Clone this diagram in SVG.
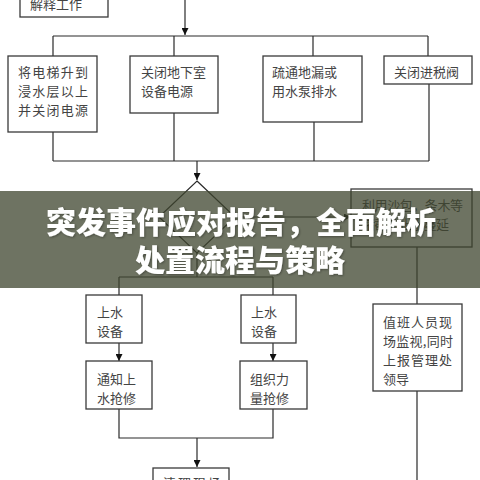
<svg xmlns="http://www.w3.org/2000/svg" width="480" height="480" viewBox="0 0 480 480">
<style>
.box{fill:#fff;stroke:#3a3a3a;stroke-width:1.3}
.ln{fill:none;stroke:#2a2a2a;stroke-width:1.2}
.t{font-family:"Noto Sans CJK SC","Noto Sans CJK JP",sans-serif;font-size:13px;fill:#444}
.title{font-family:"Noto Sans CJK SC","Noto Sans CJK JP",sans-serif;font-size:30px;font-weight:900;fill:#fff;text-anchor:middle}
</style>
<defs>
<marker id="arr" viewBox="0 0 10 10" refX="10" refY="5" markerWidth="7" markerHeight="7" markerUnits="userSpaceOnUse" orient="auto">
<path d="M0,0 L10,5 L0,10 z" fill="#111"/>
</marker>
<filter id="sh" x="-10%" y="-20%" width="120%" height="140%">
<feDropShadow dx="1" dy="1" stdDeviation="1" flood-color="#000" flood-opacity="0.35"/>
</filter>
</defs>
<rect width="480" height="480" fill="#fff"/>
<g id="connectors">
<path class="ln" d="M185,0 V35" marker-end="url(#arr)"/>
<path class="ln" d="M53,36 H428 M53,36 V56 M174,36 V56 M313,36 V56 M428,36 V56"/>
<path class="ln" d="M53,132 V161 M174,113 V161 M314,122 V161 M429,84 V161 M53,161 H429"/>
<path class="ln" d="M197,161 V180" marker-end="url(#arr)"/>
<path class="ln" d="M235,217 H351" marker-end="url(#arr)"/>
<path class="ln" d="M197,253 V277 M119,277 H273 M119,277 V295 M273,277 V295"/>
<path class="ln" d="M119,343 V361" marker-end="url(#arr)"/>
<path class="ln" d="M273,343 V361" marker-end="url(#arr)"/>
<path class="ln" d="M119,409 V438 H273 V409"/>
<path class="ln" d="M197,438 V467" marker-end="url(#arr)"/>
<path class="ln" d="M417,247 V304 M417,391 V480"/>
</g>
<g id="n-explain">
<rect class="box" x="20" y="-20" width="88" height="37"/>
<text class="t" x="30" y="9">解释工作</text>
</g>
<g id="n-elevator">
<rect class="box" x="8" y="56" width="89" height="76"/>
<text class="t" x="18" y="77" textLength="70">将电梯升到</text>
<text class="t" x="18" y="96" textLength="70">浸水层以上</text>
<text class="t" x="18" y="115" textLength="70">并关闭电源</text>
</g>
<g id="n-power">
<rect class="box" x="130" y="56" width="88" height="57"/>
<text class="t" x="141" y="77">关闭地下室</text>
<text class="t" x="141" y="96">设备电源</text>
</g>
<g id="n-drain">
<rect class="box" x="263" y="56" width="99" height="66"/>
<text class="t" x="272" y="77">疏通地漏或</text>
<text class="t" x="272" y="96">用水泵排水</text>
</g>
<g id="n-valve">
<rect class="box" x="384" y="56" width="88" height="28"/>
<text class="t" x="394" y="77">关闭进税阀</text>
</g>
<g id="n-decision">
<path class="ln" d="M197,181 L235,217 L197,253 L159,217 Z" fill="#fff"/>
</g>
<g id="n-sandbag">
<rect class="box" x="351" y="189" width="121" height="58"/>
<text class="t" x="362" y="210" textLength="101">利用沙包，条木等</text>
<text class="t" x="362" y="229" textLength="87">堵截防止水蔓延</text>
</g>
<g id="n-up1">
<rect class="box" x="86" y="295" width="56" height="48"/>
<text class="t" x="97" y="317">上水</text>
<text class="t" x="97" y="336">设备</text>
</g>
<g id="n-up2">
<rect class="box" x="241" y="295" width="55" height="48"/>
<text class="t" x="251" y="317">上水</text>
<text class="t" x="251" y="336">设备</text>
</g>
<g id="n-notify">
<rect class="box" x="86" y="361" width="66" height="48"/>
<text class="t" x="97" y="384">通知上</text>
<text class="t" x="97" y="403">水抢修</text>
</g>
<g id="n-organize">
<rect class="box" x="240" y="361" width="67" height="48"/>
<text class="t" x="250" y="384">组织力</text>
<text class="t" x="250" y="403">量抢修</text>
</g>
<g id="n-duty">
<rect class="box" x="373" y="304" width="89" height="87"/>
<text class="t" x="383" y="327" textLength="69">值班人员现</text>
<text class="t" x="383" y="346" textLength="70">场监视,同时</text>
<text class="t" x="383" y="365" textLength="69">上报管理处</text>
<text class="t" x="383" y="384">领导</text>
</g>
<g id="n-clean">
<rect class="box" x="153" y="468" width="76" height="30"/>
<text class="t" x="163" y="488" textLength="58">清理现场</text>
</g>
<g id="banner">
<rect x="0" y="191" width="480" height="97" fill="#3e442e" fill-opacity="0.75"/>
<g filter="url(#sh)">
<text class="title" x="241" y="233">突发事件应对报告，全面解析</text>
<text class="title" x="240" y="271">处置流程与策略</text>
</g>
</g>
</svg>
